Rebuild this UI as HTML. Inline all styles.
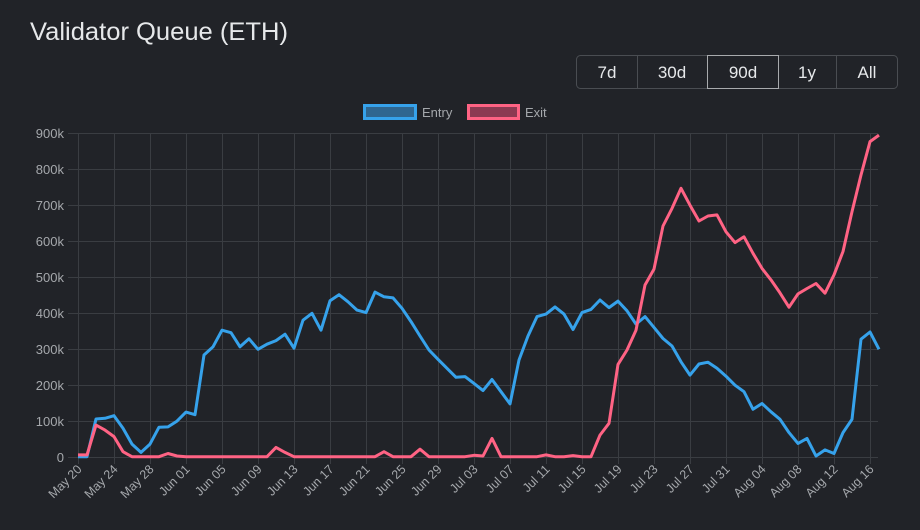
<!DOCTYPE html>
<html><head><meta charset="utf-8">
<style>
html,body{margin:0;padding:0;background:#212328;}
body{width:920px;height:530px;overflow:hidden;font-family:"Liberation Sans",sans-serif;}
</style></head>
<body>
<svg id="c" width="920" height="530" xmlns="http://www.w3.org/2000/svg" style="display:block">
<rect width="920" height="530" fill="#212328"/>
<text x="30" y="40" font-size="25" fill="#e6e8ea" font-family="Liberation Sans, sans-serif" textLength="258" lengthAdjust="spacingAndGlyphs">Validator Queue (ETH)</text>
<rect x="576.5" y="55.5" width="321" height="33" rx="4" fill="none" stroke="#4a4d52"/>
<line x1="637.5" y1="56" x2="637.5" y2="88" stroke="#4a4d52"/>
<line x1="836.5" y1="56" x2="836.5" y2="88" stroke="#4a4d52"/>
<rect x="707.5" y="55.5" width="71" height="33" fill="#212328" stroke="#a8aaad"/>
<g font-size="17" fill="#e6e8ea" text-anchor="middle">
<text x="607" y="78">7d</text>
<text x="672" y="78">30d</text>
<text x="743" y="78">90d</text>
<text x="807" y="78">1y</text>
<text x="867" y="78">All</text>
</g>
<rect x="364.5" y="105.5" width="51" height="13" fill="#2f6690" stroke="#36a2eb" stroke-width="3"/>
<text x="422" y="117" font-size="13" fill="#a5a8ac">Entry</text>
<rect x="468.5" y="105.5" width="50" height="13" fill="#8c3a52" stroke="#ff6384" stroke-width="3"/>
<text x="525" y="117" font-size="13" fill="#a5a8ac">Exit</text>
<g id="grid"></g>
<g id="lines"></g>
</svg>
<script>
var entry=[0,0,105,107,114,79,35,12,35,82,83,99,124,117,283,306,352,345,306,328,299,313,323,341,302,380,399,352,434,451,431,408,401,458,445,442,413,376,336,297,271,246,221,223,204,184,215,181,147,269,336,390,397,417,397,354,401,410,436,415,433,406,369,390,360,329,308,264,227,258,263,246,224,199,181,132,148,125,104,67,37,51,2,19,9,67,104,327,347,299];
var exit=[5,5,88,74,56,14,0,0,0,0,9,2,0,0,0,0,0,0,0,0,0,0,26,12,0,0,0,0,0,0,0,0,0,0,14,0,0,0,21,0,0,0,0,0,4,2,51,0,0,0,0,0,5,0,0,3,0,0,60,93,257,297,352,478,522,642,691,747,700,656,670,673,626,596,612,566,524,492,456,416,453,468,482,455,506,571,682,784,877,895];
var x0=78,dx=9,y0=456.7,ys=0.3593;
var ns="http://www.w3.org/2000/svg";
var g=document.getElementById('grid'),L=document.getElementById('lines');
function el(t,a,p,txt){var e=document.createElementNS(ns,t);for(var k in a)e.setAttribute(k,a[k]);if(txt)e.textContent=txt;p.appendChild(e);return e;}
var yl=['0','100k','200k','300k','400k','500k','600k','700k','800k','900k'];
for(var i=0;i<10;i++){var y=Math.round(y0-i*100*ys)+0.5;
el('line',{x1:68,y1:y,x2:878,y2:y,stroke:'#3a3d42','stroke-width':1},g);
el('text',{x:64,y:y+4.5,'font-size':13,fill:'#a5a8ac','text-anchor':'end'},g,yl[i]);}
var xl=['May 20','May 24','May 28','Jun 01','Jun 05','Jun 09','Jun 13','Jun 17','Jun 21','Jun 25','Jun 29','Jul 03','Jul 07','Jul 11','Jul 15','Jul 19','Jul 23','Jul 27','Jul 31','Aug 04','Aug 08','Aug 12','Aug 16'];
for(var j=0;j<xl.length;j++){var x=Math.round(x0+j*4*dx)+0.5;
el('line',{x1:x,y1:133,x2:x,y2:464,stroke:'#3a3d42','stroke-width':1},g);
el('text',{x:x+4,y:470,'font-size':12.5,fill:'#a5a8ac','text-anchor':'end',transform:'rotate(-45 '+(x+4)+' 470)'},g,xl[j]);}
function path(d,c){var s='';for(var i=0;i<d.length;i++){s+=(i?'L':'M')+(x0+i*dx).toFixed(1)+','+(y0-d[i]*ys).toFixed(1);}
el('path',{d:s,fill:'none',stroke:c,'stroke-width':3,'stroke-linejoin':'round'},L);}
path(entry,'#36a2eb');path(exit,'#ff6384');
</script>
</body></html>
